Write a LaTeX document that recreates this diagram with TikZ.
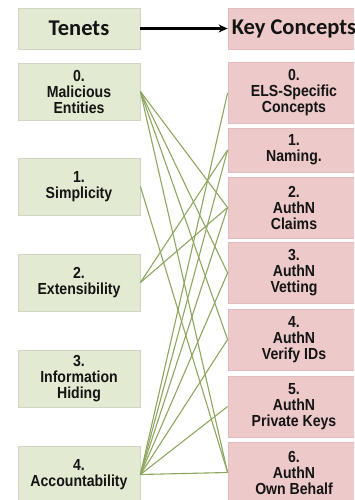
\documentclass[tikz,border=0pt]{standalone}
\usepackage{fontspec}
\usepackage{xcolor}
\usepackage{tikz}
\usetikzlibrary{arrows.meta}

\newfontfamily\boxfont[FakeStretch=0.88]{Liberation Sans}
\newfontfamily\headfont{Carlito}

\definecolor{tenetfill}{HTML}{E2EBD1}
\definecolor{tenetline}{HTML}{CFD6C4}
\definecolor{conceptfill}{HTML}{EDC9C9}
\definecolor{conceptline}{HTML}{DDBDBD}
\definecolor{linkgreen}{HTML}{8EA660}
\definecolor{txt}{HTML}{141414}

\begin{document}
\begin{tikzpicture}[x=1pt, y=-1pt,
    tenet/.style={draw=tenetline, fill=tenetfill, line width=0.8pt, minimum width=122pt, minimum height=57pt, inner sep=0pt, align=center, text=txt, font=\boxfont\bfseries\fontsize{16}{16}\selectfont},
    concept/.style={tenet, draw=conceptline, fill=conceptfill, minimum width=132pt, minimum height=61pt},
    head/.style={font=\headfont\bfseries\fontsize{22.5}{24}\selectfont, minimum height=41pt},
    link/.style={draw=linkgreen, line width=1.1pt}]
    \useasboundingbox (0,0) rectangle (354,500);
    \clip (0,0) rectangle (354,500);

    % headers
    \node[tenet, head] (tenets) at (79,28.5) {Tenets};
    \node[concept, head] (keys) at (294,28.5) {Key Concepts};
    \draw[-{Stealth[length=9pt,width=8pt]}, line width=2.4pt, black] (tenets) -- (keys);

    % tenets
    \node[tenet] (t0) at (79,91.5) {0.\\Malicious\\Entities};
    \node[tenet] (t1) at (79,186.5) {1.\\Simplicity};
    \node[tenet] (t2) at (79,282.5) {2.\\Extensibility};
    \node[tenet] (t3) at (79,378.5) {3.\\Information\\Hiding};
    \node[tenet] (t4) at (79,474.5) {4.\\Accountability};

    % key concepts
    \node[concept] (c0) at (294,93) {0.\\ELS-Specific\\Concepts};
    \node[concept, minimum height=44pt] (c1) at (294,150) {1.\\Naming.};
    \node[concept] (c2) at (294,207.5) {2.\\AuthN\\Claims};
    \node[concept] (c3) at (294,273) {3.\\AuthN\\Vetting};
    \node[concept] (c4) at (294,339.5) {4.\\AuthN\\Verify IDs};
    \node[concept] (c5) at (294,406.5) {5.\\AuthN\\Private Keys};
    \node[concept] (c6) at (294,472.5) {6.\\AuthN\\Own Behalf};

    % links
    \draw[link] (t0.east) -- (c2.west);
    \draw[link] (t0.east) -- (c3.west);
    \draw[link] (t0.east) -- (c4.west);
    \draw[link] (t0.east) -- (c6.west);
    \draw[link] (t1.east) -- (c6.west);
    \draw[link] (t2.east) -- (c1.west);
    \draw[link] (t2.east) -- (c2.west);
    \draw[link] (t4.east) -- (c0.west);
    \draw[link] (t4.east) -- (c1.west);
    \draw[link] (t4.east) -- (c2.west);
    \draw[link] (t4.east) -- (c3.west);
    \draw[link] (t4.east) -- (c4.west);
    \draw[link] (t4.east) -- (c5.west);
    \draw[link] (t4.east) -- (c6.west);
\end{tikzpicture}
\end{document}
